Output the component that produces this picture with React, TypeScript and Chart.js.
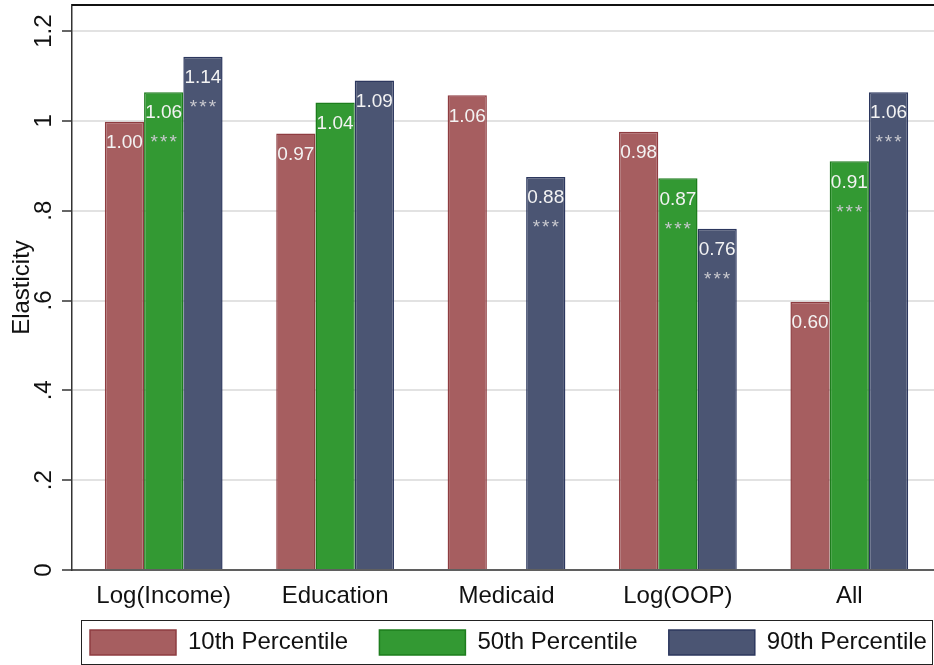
import React, { useEffect, useRef } from 'react';
import { Chart, registerables } from 'chart.js';

Chart.register(...registerables);

const FONT = "'Liberation Sans', Arial, Helvetica, sans-serif";

const categories = ['Log(Income)', 'Education', 'Medicaid', 'Log(OOP)', 'All'];
const seriesNames = ['10th Percentile', '50th Percentile', '90th Percentile'];

const p10 = [0.998, 0.972, 1.057, 0.976, 0.597];
const p50 = [1.064, 1.041, null, 0.872, 0.91];
const p90 = [1.143, 1.09, 0.875, 0.76, 1.064];

const stars10 = ['', '', '', '', ''];
const stars50 = ['***', '', '', '***', '***'];
const stars90 = ['***', '', '***', '***', '***'];

const yTicks = [0, 0.2, 0.4, 0.6, 0.8, 1, 1.2];
const yTickLabels = ['0', '.2', '.4', '.6', '.8', '1', '1.2'];

const fills = ['#a65e60', '#339933', '#4b5573'];
const borders = ['#8e3c40', '#1d7d1d', '#2c375e'];

const starSets = [stars10, stars50, stars90];

const LEGEND_FIRST_BOX_X = 90;
const LEGEND_FRAME_LEFT = 81;

const layoutFix = {
  id: 'layoutFix',
  afterLayout(chart: any) {
    const x = chart.scales.x;
    x.left = chart.chartArea.left + 6;
    x.right = chart.width + 1;
    x.width = x.right - x.left;
    x.bottom = x.top + 48;
    x.height = 48;
    x.configure();
    const lg = chart.legend;
    if (lg) {
      const pad = lg.options.labels.padding;
      lg.left = LEGEND_FIRST_BOX_X - pad;
      lg.right = 3000;
      lg.width = lg.right - lg.left;
    }
  },
};

const decorations = {
  id: 'decorations',
  afterDatasetsDraw(chart: any) {
    const ctx = chart.ctx;
    const area = chart.chartArea;
    ctx.save();
    ctx.strokeStyle = '#111';
    ctx.lineWidth = 2;
    ctx.beginPath();
    ctx.moveTo(area.left, area.top);
    ctx.lineTo(chart.width, area.top);
    ctx.stroke();
    ctx.strokeStyle = '#333';
    ctx.lineWidth = 1.5;
    ctx.beginPath();
    ctx.moveTo(area.left, area.bottom);
    ctx.lineTo(chart.width, area.bottom);
    ctx.stroke();

    ctx.textAlign = 'center';
    ctx.textBaseline = 'middle';
    chart.data.datasets.forEach((ds: any, di: number) => {
      const meta = chart.getDatasetMeta(di);
      meta.data.forEach((bar: any, i: number) => {
        const v = ds.data[i];
        if (v === null || v === undefined) return;
        ctx.font = `19px ${FONT}`;
        ctx.fillStyle = '#f3f3f3';
        (ctx as any).letterSpacing = '0px';
        ctx.fillText(v.toFixed(2), bar.x, bar.y + 21);
        const s = starSets[di][i];
        if (s) {
          ctx.font = `19px ${FONT}`;
          ctx.fillStyle = '#c9c9cf';
          (ctx as any).letterSpacing = '2px';
          ctx.fillText(s, bar.x + 1, bar.y + 51);
          (ctx as any).letterSpacing = '0px';
        }
      });
    });
    ctx.restore();
  },
  afterDraw(chart: any) {
    const lg = chart.legend;
    if (!lg) return;
    const ctx = chart.ctx;
    const pad = lg.options.labels.padding;
    const top = lg.top + pad - 10;
    ctx.save();
    ctx.strokeStyle = '#222';
    ctx.lineWidth = 1;
    ctx.strokeRect(LEGEND_FRAME_LEFT + 0.5, top + 0.5, chart.width - LEGEND_FRAME_LEFT - 2, 44);
    ctx.restore();
  },
};

export default function App() {
  const ref = useRef<HTMLCanvasElement | null>(null);

  useEffect(() => {
    if (!ref.current) return;
    const datasets = [p10, p50, p90].map((data, k) => ({
      label: seriesNames[k],
      data,
      backgroundColor: fills[k],
      borderColor: borders[k],
      borderWidth: 1.5,
      categoryPercentage: 0.687,
      barPercentage: 1,
    }));
    const chart = new Chart(ref.current, {
      type: 'bar',
      data: { labels: categories, datasets },
      plugins: [layoutFix, decorations],
      options: {
        responsive: false,
        animation: false,
        layout: { padding: { top: 5, left: 0, right: 0, bottom: 0 } },
        plugins: {
          legend: {
            position: 'bottom',
            align: 'start',
            labels: {
              boxWidth: 86,
              boxHeight: 25,
              padding: 31.3,
              color: '#111',
              font: { size: 24, family: FONT },
            },
          },
          tooltip: { enabled: false },
        },
        scales: {
          x: {
            type: 'category',
            offset: true,
            grid: { display: false, drawTicks: false },
            border: { display: false },
            ticks: {
              font: { size: 24, family: FONT },
              color: '#111',
              padding: 12,
              autoSkip: false,
              maxRotation: 0,
              minRotation: 0,
            },
            afterFit: (s: any) => {
              s.height = 28.7;
              s.paddingLeft = 0;
              s.paddingRight = 0;
            },
          },
          y: {
            min: 0,
            max: 1.258,
            afterBuildTicks: (s: any) => {
              s.ticks = yTicks.map((v) => ({ value: v }));
            },
            ticks: {
              callback: (v: any) => {
                const idx = yTicks.findIndex((t) => Math.abs(t - Number(v)) < 1e-9);
                return idx >= 0 ? yTickLabels[idx] : '';
              },
              minRotation: 90,
              maxRotation: 90,
              crossAlign: 'center',
              padding: 1,
              color: '#111',
              font: { size: 24, family: FONT },
            },
            grid: {
              color: '#e2e2e2',
              lineWidth: 2,
              tickLength: 10,
              tickColor: '#333',
              tickWidth: 1.5,
            },
            border: { display: true, color: '#333', width: 1.5 },
            title: {
              display: true,
              text: 'Elasticity',
              color: '#111',
              font: { size: 24, family: FONT },
              padding: { top: 8, bottom: 0 },
            },
            afterFit: (s: any) => {
              s.width = 72;
              s.paddingTop = 0;
              s.paddingBottom = 0;
            },
          },
        },
      } as any,
    });
    return () => chart.destroy();
  }, []);

  return (
    <div style={{ position: 'fixed', left: 0, top: 0, width: 934, height: 665, background: '#fff' }}>
      <canvas ref={ref} width={934} height={665} style={{ display: 'block' }} />
    </div>
  );
}
